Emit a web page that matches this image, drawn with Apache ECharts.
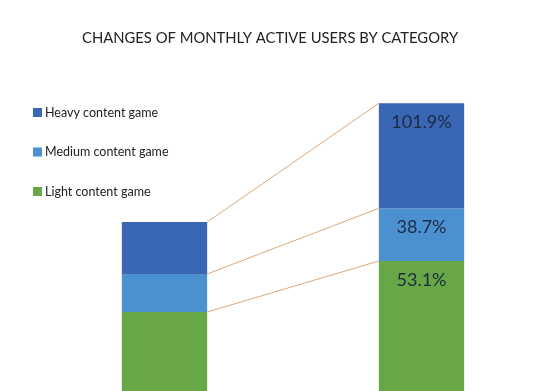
<!DOCTYPE html>
<html><head><meta charset="utf-8">
<script src="https://cdn.jsdelivr.net/npm/echarts@6/dist/echarts.min.js"></script>
<style>html,body{margin:0;padding:0;background:#fff}#c{width:550px;height:391px}</style>
</head><body><div id="c"></div>
<script>
var categories = ['Before', 'After'];
var lightValues = [96, 147];
var mediumValues = [38, 52.7];
var heavyValues = [52, 105];
var changeLabels = { light: '53.1%', medium: '38.7%', heavy: '101.9%' };
var seriesNames = ['Heavy content game', 'Medium content game', 'Light content game'];
var colors = { heavy: '#3a67b3', medium: '#4b91cf', light: '#67a745' };
var BAR_FRAC = 0.332;

var chart = echarts.init(document.getElementById('c'));
function lbl(text) {
  return {
    show: true, position: 'insideTop', distance: 10,
    fontFamily: 'Lato', fontSize: 18, color: '#1b2a45',
    formatter: function (p) { return p.dataIndex === 1 ? text : ''; }
  };
}
var cumLight = lightValues.slice();
var cumMedium = lightValues.map(function (v, i) { return v + mediumValues[i]; });
var cumHeavy = cumMedium.map(function (v, i) { return v + heavyValues[i]; });
var connectors = [[cumHeavy[0], cumHeavy[1]], [cumMedium[0], cumMedium[1]], [cumLight[0], cumLight[1]]];

chart.setOption({
  animation: false,
  title: {
    text: 'CHANGES OF MONTHLY ACTIVE USERS BY CATEGORY',
    left: 77, top: 26,
    textStyle: { fontFamily: 'Lato', fontSize: 14.8, fontWeight: 'normal', color: '#222' }
  },
  legend: {
    orient: 'vertical', left: 33, top: 106, itemGap: 26.5, padding: 0,
    icon: 'rect', itemWidth: 9, itemHeight: 9,
    data: seriesNames,
    textStyle: { fontFamily: 'Lato', fontSize: 12.5, color: '#222', padding: [0, 0, 0, -2] }
  },
  grid: { left: 36, width: 518, top: 88, bottom: 0 },
  xAxis: { type: 'category', data: categories, show: false },
  yAxis: { type: 'value', min: 17, max: 320, show: false },
  series: [
    { name: seriesNames[2], type: 'bar', stack: 's', barWidth: (BAR_FRAC * 100) + '%', data: lightValues, itemStyle: { color: colors.light }, label: lbl(changeLabels.light) },
    { name: seriesNames[1], type: 'bar', stack: 's', data: mediumValues, itemStyle: { color: colors.medium }, label: lbl(changeLabels.medium) },
    { name: seriesNames[0], type: 'bar', stack: 's', data: heavyValues, itemStyle: { color: colors.heavy }, label: lbl(changeLabels.heavy) },
    {
      type: 'custom', silent: true, z: 5,
      data: connectors,
      renderItem: function (params, api) {
        var a = api.coord([0, api.value(0)]);
        var b = api.coord([1, api.value(1)]);
        var half = api.size([1, 0])[0] * BAR_FRAC / 2;
        return {
          type: 'line',
          shape: { x1: a[0] + half, y1: a[1], x2: b[0] - half, y2: b[1] },
          style: { stroke: '#dca878', lineWidth: 1 }
        };
      }
    }
  ]
});
</script></body></html>
